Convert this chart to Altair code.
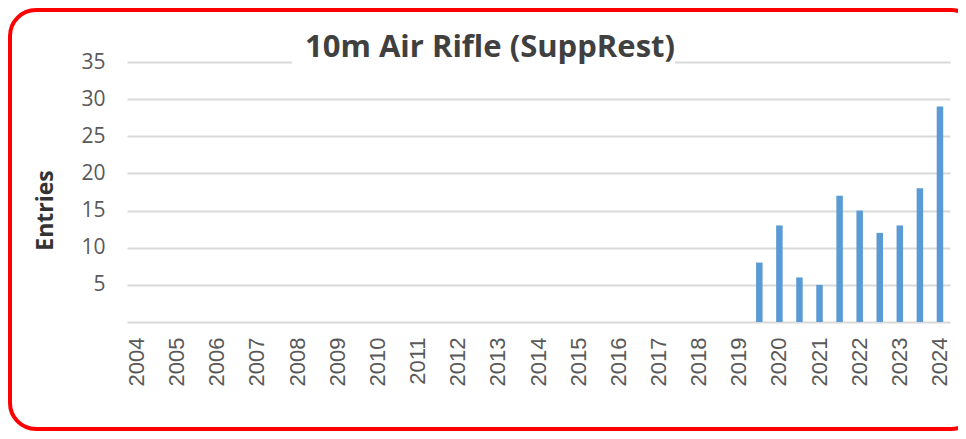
import altair as alt
import pandas as pd

# Half-year periods from 2004 to 2024 (labels shown for whole years only)
periods = []
for yr in range(2004, 2025):
    periods.append(str(yr))
    if yr < 2024:
        periods.append(f"{yr}.5")

entries = [0, 0, 0, 0, 0, 0, 0, 0, 0, 0,
           0, 0, 0, 0, 0, 0, 0, 0, 0, 0,
           0, 0, 0, 0, 0, 0, 0, 0, 0, 0,
           0,
           8, 13, 6, 5, 17, 15, 12, 13, 18, 29]

y_ticks = [0, 5, 10, 15, 20, 25, 30, 35]
chart_title = "10m Air Rifle (SuppRest)"

df = pd.DataFrame({"period": periods, "entries": entries})
one = pd.DataFrame({"a": [0]})

x_enc = alt.X(
    "period:O",
    sort=periods,
    scale=alt.Scale(paddingInner=0, paddingOuter=0),
    axis=alt.Axis(
        title=None, labelAngle=-90, labelAlign="right", labelBaseline="middle",
        labelPadding=15, ticks=False, tickSize=0, domain=False, grid=False,
        labelFont="Liberation Sans", labelFontSize=22, labelColor="#595959",
        labelOverlap=False,
        labelExpr="length(datum.label) > 4 ? '' : datum.label",
    ),
)
y_enc = alt.Y(
    "entries:Q",
    scale=alt.Scale(domain=[0, 35], nice=False),
    axis=alt.Axis(
        values=y_ticks, title="Entries", titleX=-82, titleY=148, titleAngle=-90,
        titleAlign="center", titleBaseline="middle",
        titleFont="Open Sans", titleFontSize=23, titleFontWeight="bold", titleColor="#333333",
        labelFont="Open Sans", labelFontSize=21, labelColor="#595959", labelPadding=22,
        ticks=False, tickSize=0, domain=False,
        grid=True, gridColor="#d9d9d9", gridWidth=2,
        labelExpr="datum.value == 0 ? '' : datum.label",
    ),
)

bars = alt.Chart(df).mark_bar(color="#5b9bd5", width=6.5).encode(x=x_enc, y=y_enc)

mask = alt.Chart(one).mark_rect(color="white").encode(
    x=alt.value(165), x2=alt.value(548), y=alt.value(-5), y2=alt.value(4)
)

title_txt = alt.Chart(one).mark_text(
    text=chart_title, font="Open Sans", fontSize=31, fontWeight="bold",
    color="#404040", align="center", baseline="alphabetic",
).encode(x=alt.value(363), y=alt.value(-5))

border = alt.Chart(one).mark_rect(
    fillOpacity=0, stroke="#ff0000", strokeWidth=4, cornerRadius=26
).encode(x=alt.value(-117), x2=alt.value(850), y=alt.value(-52), y2=alt.value(367))

chart = alt.layer(bars, mask, title_txt, border).properties(
    width=823, height=260,
    padding={"left": 119, "top": 54, "right": 8, "bottom": 109},
    autosize="none",
).configure_view(strokeWidth=0)

chart.save("out.html", embed_options={"renderer": "svg", "actions": False})
